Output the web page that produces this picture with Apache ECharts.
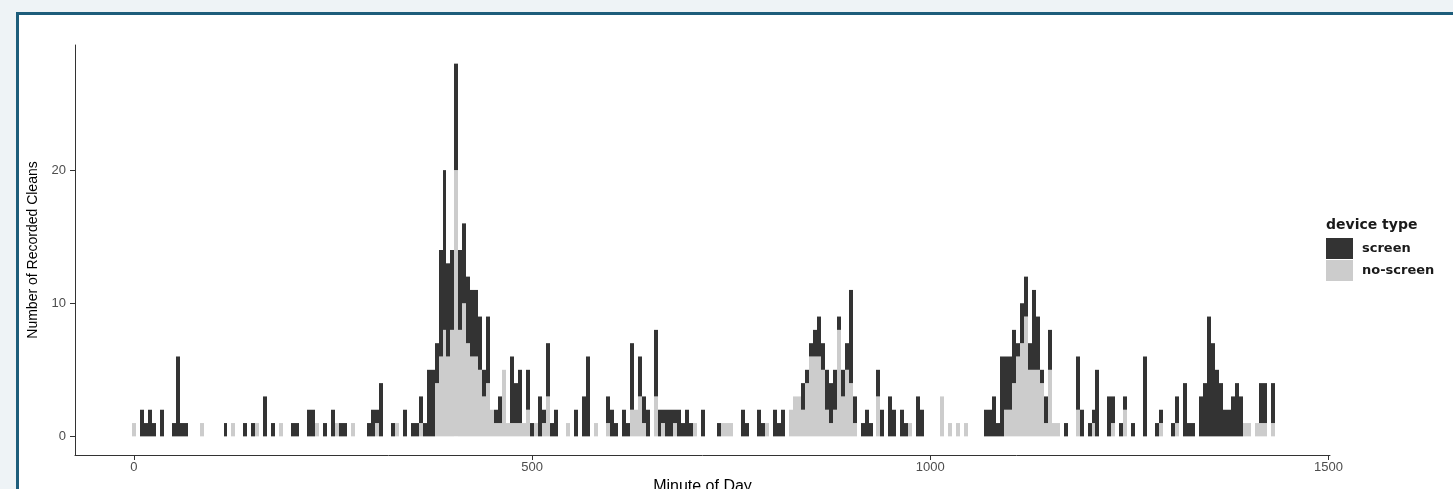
<!DOCTYPE html>
<html><head><meta charset="utf-8">
<script src="https://cdn.jsdelivr.net/npm/echarts@6/dist/echarts.min.js"></script>
<style>
html,body{margin:0;padding:0;width:1453px;height:489px;overflow:hidden;background:#eef3f6;}
#frame{position:absolute;left:16px;top:12px;width:1460px;height:500px;border-left:3px solid #1d5d7b;border-top:3px solid #1d5d7b;background:#fff;}
#c{position:absolute;left:0;top:0;width:1453px;height:489px;}
</style></head><body><div id="frame"></div><div id="c"></div>
<script>
// 5-minute bins, minute 0 .. 1435 (bin i is centred on minute i*5); 24 bins (2 hours) per row
const binWidth = 5;
const screenCounts = [
  0,0,2,1,2,1,0,2,0,0,1,6,1,1,0,0,0,0,0,0,0,0,0,1,
  0,0,0,0,1,0,1,0,0,3,0,1,0,0,0,0,1,1,0,0,2,2,0,0,
  1,0,2,0,1,1,0,0,0,0,0,1,2,1,4,0,0,1,0,0,2,0,1,1,
  2,1,5,5,3,8,12,7,6,8,6,6,5,5,5,4,2,5,0,1,2,0,0,5,
  3,4,0,3,1,0,3,1,4,1,2,0,0,0,0,2,0,3,6,0,0,0,0,2,
  2,1,0,2,1,5,0,3,2,2,0,5,2,1,2,2,1,2,1,2,1,0,0,2,
  0,0,0,1,0,0,0,0,0,2,1,0,0,2,1,0,0,2,1,2,0,0,0,0,
  2,1,1,2,3,2,3,3,3,1,2,2,7,2,0,1,2,1,0,2,2,0,3,2,
  0,2,1,0,0,3,2,0,0,0,0,0,0,0,0,0,0,0,0,0,0,0,2,2,
  3,1,6,4,4,4,1,3,3,2,6,4,1,2,3,0,0,0,1,0,0,4,2,0,
  1,1,5,0,0,3,2,0,1,1,0,1,0,0,6,0,0,1,1,0,0,1,2,0,
  4,1,1,0,3,4,9,7,5,4,2,2,3,4,3,0,0,0,0,3,3,0,3,0
];
const noScreenCounts = [
  1,0,0,0,0,0,0,0,0,0,0,0,0,0,0,0,0,1,0,0,0,0,0,0,
  0,1,0,0,0,0,0,1,0,0,0,0,0,1,0,0,0,0,0,0,0,0,1,0,
  0,0,0,1,0,0,0,1,0,0,0,0,0,1,0,0,0,0,1,0,0,0,0,0,
  1,0,0,0,4,6,8,6,8,20,8,10,7,6,6,5,3,4,2,1,1,5,1,1,
  1,1,1,2,0,1,0,1,3,0,0,0,0,1,0,0,0,0,0,0,1,0,0,1,
  0,0,0,0,0,2,2,3,1,0,0,3,0,1,0,0,1,0,0,0,0,1,0,0,
  0,0,0,0,1,1,1,0,0,0,0,0,0,0,0,1,0,0,0,0,0,2,3,3,
  2,4,6,6,6,5,2,1,2,8,3,5,4,1,0,0,0,0,0,3,0,0,0,0,
  0,0,0,1,0,0,0,0,0,0,0,3,0,1,0,1,0,1,0,0,0,0,0,0,
  0,0,0,2,2,4,6,7,9,5,5,5,4,1,5,1,1,0,0,0,0,2,0,0,
  0,1,0,0,0,0,1,0,0,2,0,0,0,0,0,0,0,0,1,0,0,0,1,0,
  0,0,0,0,0,0,0,0,0,0,0,0,0,0,0,1,1,0,1,1,1,0,1,0
];
const xTicks = [0, 500, 1000, 1500];
const yTicks = [0, 10, 20];
const seriesNames = ['screen', 'no-screen'];
const seriesColors = ['#333333', '#cccccc'];

const nsData = [], sData = [];
for (let i = 0; i < screenCounts.length; i++) {
  const m = i * binWidth, ns = noScreenCounts[i], s = screenCounts[i];
  if (ns > 0) nsData.push([m, 0, ns]);
  if (s > 0) sData.push([m, ns, ns + s]);
}
function makeRender(color) {
  return function (params, api) {
    const m = api.value(0), lo = api.value(1), hi = api.value(2);
    const p0 = api.coord([m - binWidth / 2, lo]);
    const p1 = api.coord([m + binWidth / 2, hi]);
    const x0 = Math.round(p0[0]), x1 = Math.round(p1[0]);
    return { type: 'rect', shape: { x: x0, y: p1[1], width: x1 - x0, height: p0[1] - p1[1] }, style: { fill: color } };
  };
}
const chart = echarts.init(document.getElementById('c'));
const axisFont = 'Liberation Sans';
chart.setOption({
  animation: false,
  backgroundColor: 'transparent',
  grid: { left: 75, right: 123, top: 45, bottom: 34, containLabel: false, outerBoundsMode: 'none' },
  title: { text: 'device type', left: 1326, top: 218, padding: 0,
    textStyle: { fontFamily: 'DejaVu Sans', fontWeight: 'bold', fontSize: 14, color: '#1a1a1a' } },
  legend: { orient: 'vertical', left: 1326, top: 238, padding: 0, itemWidth: 27, itemHeight: 21, itemGap: 1,
    icon: 'rect', selectedMode: false, data: seriesNames,
    textStyle: { fontFamily: 'DejaVu Sans', fontWeight: 'bold', fontSize: 13, color: '#1a1a1a', padding: [0, 0, 0, 4] } },
  xAxis: {
    type: 'value', min: -74, max: 1502,
    name: 'Minute of Day', nameLocation: 'middle', nameGap: 24,
    nameTextStyle: { fontFamily: axisFont, fontSize: 16, color: '#000' },
    axisLine: { show: true, onZero: false, lineStyle: { color: '#333', width: 1 } },
    axisTick: { show: true, length: 5, customValues: xTicks, lineStyle: { color: '#333' } },
    axisLabel: { customValues: xTicks, formatter: v => String(v), margin: 6, fontFamily: axisFont, fontSize: 13, color: '#4d4d4d' },
    splitLine: { show: false }
  },
  yAxis: {
    type: 'value', min: -1.4, max: 29.4,
    name: 'Number of Recorded Cleans', nameLocation: 'middle', nameGap: 31,
    nameTextStyle: { fontFamily: axisFont, fontSize: 14, color: '#000' },
    axisLine: { show: true, onZero: false, lineStyle: { color: '#333', width: 1 } },
    axisTick: { show: true, length: 5, customValues: yTicks, lineStyle: { color: '#333' } },
    axisLabel: { customValues: yTicks, formatter: v => String(v), margin: 9, fontFamily: axisFont, fontSize: 13, color: '#4d4d4d' },
    splitLine: { show: false }
  },
  series: [
    { name: seriesNames[1], type: 'custom', renderItem: makeRender(seriesColors[1]), itemStyle: { color: seriesColors[1] },
      encode: { x: 0, y: [1, 2] }, data: nsData },
    { name: seriesNames[0], type: 'custom', renderItem: makeRender(seriesColors[0]), itemStyle: { color: seriesColors[0] },
      encode: { x: 0, y: [1, 2] }, data: sData }
  ]
});
</script></body></html>
